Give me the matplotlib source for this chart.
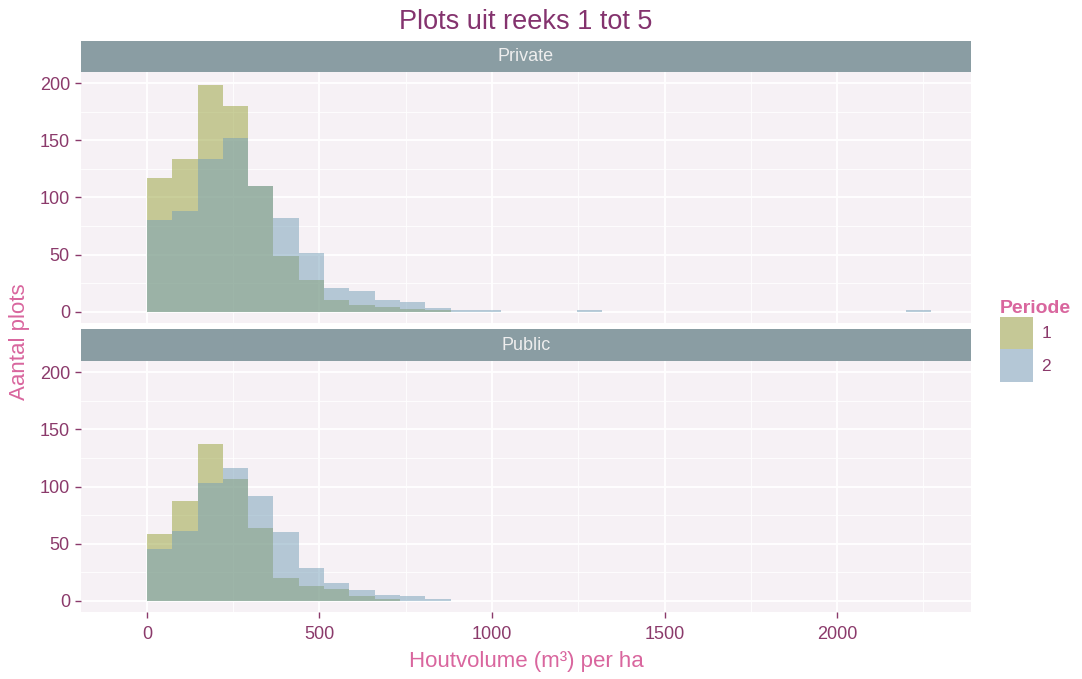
import numpy as np
import matplotlib
matplotlib.use('Agg')
import matplotlib.pyplot as plt
from matplotlib.patches import Patch

plt.rcParams['font.family'] = ['Liberation Sans', 'DejaVu Sans']

# histogram data, 31 bins of width ~73.3 starting at 0
binwidth = 2200 / 30
private_p1 = [117, 134, 199, 180, 110, 49, 28, 10, 6, 4, 2, 1, 0, 0, 0, 0, 0, 0, 0, 0,
              0, 0, 0, 0, 0, 0, 0, 0, 0, 0, 0]
private_p2 = [80, 88, 134, 152, 110, 82, 51, 21, 18, 10, 8, 3, 1, 1, 0, 0, 0, 1, 0, 0,
              0, 0, 0, 0, 0, 0, 0, 0, 0, 0, 1]
public_p1 = [58, 87, 137, 107, 64, 20, 13, 10, 4, 1, 0, 0, 0, 0, 0, 0, 0, 0, 0, 0,
             0, 0, 0, 0, 0, 0, 0, 0, 0, 0, 0]
public_p2 = [45, 61, 103, 116, 92, 60, 29, 15, 9, 5, 4, 1, 0, 0, 0, 0, 0, 0, 0, 0,
             0, 0, 0, 0, 0, 0, 0, 0, 0, 0, 0]
panels = ['Private', 'Public']
periods = ['1', '2']
xticks = [0, 500, 1000, 1500, 2000]
yticks = [0, 50, 100, 150, 200]

col1 = '#95A037'
col2 = '#739EB7'
key1 = '#C5C896'
key2 = '#B4C7D6'
panel_bg = '#F6F1F5'
strip_bg = '#8A9DA3'
tick_col = '#8B3A6B'
lab_col = '#D9669E'

W, H = 1082, 679
fig = plt.figure(figsize=(W / 100, H / 100), dpi=100)

def fbox(l, t, r, b):
    return [l / W, (H - b) / H, (r - l) / W, (b - t) / H]

data = {'Private': (private_p1, private_p2), 'Public': (public_p1, public_p2)}
boxes = {'Private': ((81, 72, 971, 323), (81, 41, 971, 72)),
         'Public': ((81, 361, 971, 612), (81, 329, 971, 361))}

edges = np.arange(len(private_p1)) * binwidth
for name in panels:
    pbox, sbox = boxes[name]
    ax = fig.add_axes(fbox(*pbox))
    ax.set_facecolor(panel_bg)
    p1, p2 = data[name]
    ax.bar(edges, p1, width=binwidth, align='edge', color=col1, alpha=0.5, linewidth=0, zorder=3)
    ax.bar(edges, p2, width=binwidth, align='edge', color=col2, alpha=0.5, linewidth=0, zorder=4)
    ax.set_xticks(xticks)
    ax.set_yticks(yticks)
    ax.set_xticks([250, 750, 1250, 1750, 2250], minor=True)
    ax.set_yticks([25, 75, 125, 175], minor=True)
    ax.set_xlim(-191, 2388)
    ax.set_ylim(-10, 210)
    ax.grid(True, which='major', color='white', linewidth=1.3, zorder=1)
    ax.grid(True, which='minor', color='white', linewidth=0.6, zorder=1)
    for s in ax.spines.values():
        s.set_visible(False)
    ax.tick_params(which='minor', length=0)
    ax.tick_params(which='major', colors=tick_col, labelcolor=tick_col, labelsize=13,
                   length=4, width=1, pad=4)
    ax.tick_params(axis='x', pad=6)
    if name == 'Private':
        ax.tick_params(axis='x', length=0, labelbottom=False)
    sax = fig.add_axes(fbox(*sbox))
    sax.set_facecolor(strip_bg)
    sax.set_xticks([])
    sax.set_yticks([])
    for s in sax.spines.values():
        s.set_visible(False)
    sax.text(0.5, 0.5, name, ha='center', va='center', color='#EEEEEE', fontsize=13,
             transform=sax.transAxes)

fig.text(526 / W, 1 - 22 / H, 'Plots uit reeks 1 tot 5', ha='center', va='center',
         color='#84336E', fontsize=19.5)
fig.text(526 / W, 1 - 662 / H, 'Houtvolume (m³) per ha', ha='center', va='center',
         color=lab_col, fontsize=16)
fig.text(20 / W, 1 - 342 / H, 'Aantal plots', ha='center', va='center', rotation=90,
         color=lab_col, fontsize=16)

handles = [Patch(facecolor=key1, edgecolor='none'), Patch(facecolor=key2, edgecolor='none')]
leg = fig.legend(handles, periods, title='Periode', loc='upper left',
                 bbox_to_anchor=(993 / W, 1 - 293 / H), frameon=False, fontsize=12.5,
                 handlelength=1.9, handleheight=2.5, labelspacing=0.0, handletextpad=0.5,
                 borderaxespad=0, title_fontproperties={'weight': 'bold', 'size': 14})
leg.get_title().set_color(lab_col)
for t in leg.get_texts():
    t.set_color(tick_col)
leg._legend_box.align = 'left'

fig.savefig('out.png', dpi=100)
